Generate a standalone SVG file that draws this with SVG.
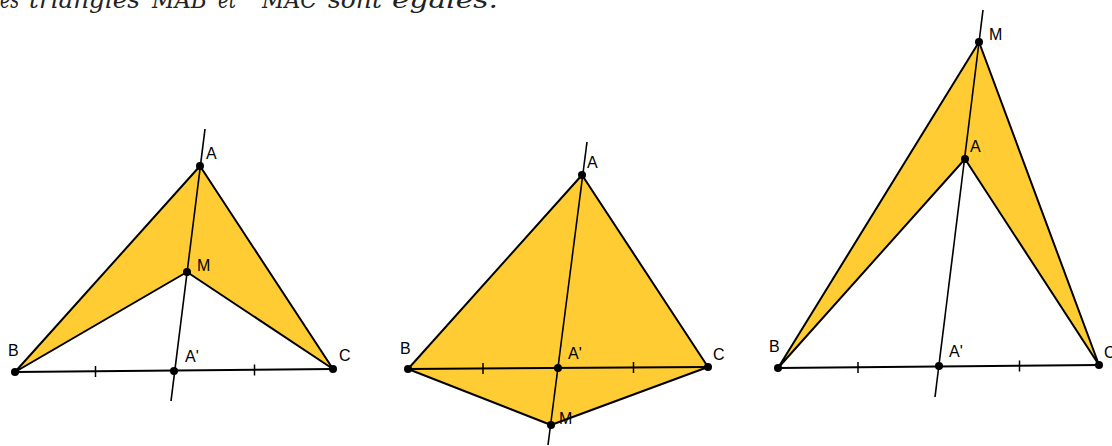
<svg xmlns="http://www.w3.org/2000/svg" width="1112" height="446" viewBox="0 0 1112 446">
<style>
.t{font-family:"DejaVu Serif","Liberation Serif",serif;font-style:italic;font-size:24px;fill:#222}
.f{fill:#FFCC33;stroke:none}
.e{stroke:#000;stroke-width:2;fill:none;stroke-linejoin:round}
.l{stroke:#000;stroke-width:1.6;fill:none}
.k{stroke:#000;stroke-width:1.5}
.d{fill:#000}
.lb{font-family:"Liberation Sans",Arial,sans-serif;font-size:16px;fill:#000}
</style>
<rect width="1112" height="446" fill="#fff"/>
<g id="caption">
<text class="t" x="0" y="8" textLength="19" lengthAdjust="spacingAndGlyphs">es</text>
<text class="t" x="29" y="8" textLength="111" lengthAdjust="spacingAndGlyphs">triangles</text>
<text class="t" x="152" y="8" textLength="55" lengthAdjust="spacingAndGlyphs">MAB</text>
<text class="t" x="218" y="8" textLength="18" lengthAdjust="spacingAndGlyphs">et</text>
<text class="t" x="262" y="8" textLength="55" lengthAdjust="spacingAndGlyphs">MAC</text>
<text class="t" x="328" y="8" textLength="54" lengthAdjust="spacingAndGlyphs">sont</text>
<text class="t" x="392" y="8" textLength="106" lengthAdjust="spacingAndGlyphs">égales.</text>
</g>
<g id="figure1">
<polygon class="f" points="200,166 15,372 187,272 333,369"/>
<g id="connectors1">
<polyline class="e" points="333,369 200,166 15,372 187,272 333,369"/>
<line class="e" x1="15" y1="372" x2="333" y2="369"/>
<line class="l" x1="205" y1="129" x2="171" y2="401"/>
<line class="k" x1="95.5" y1="366" x2="95.5" y2="377"/>
<line class="k" x1="254.5" y1="364.5" x2="254.5" y2="375.5"/>
</g>
<g id="f1-A"><circle class="d" cx="200" cy="166" r="4"/><text class="lb" x="206" y="159">A</text></g>
<g id="f1-M"><circle class="d" cx="187" cy="272" r="4"/><text class="lb" x="197" y="271">M</text></g>
<g id="f1-B"><circle class="d" cx="15" cy="372" r="4"/><text class="lb" x="8" y="356">B</text></g>
<g id="f1-A2"><circle class="d" cx="174" cy="371" r="4"/><text class="lb" x="185" y="362">A'</text></g>
<g id="f1-C"><circle class="d" cx="333" cy="369" r="4"/><text class="lb" x="339" y="361">C</text></g>
</g>
<g id="figure2">
<polygon class="f" points="582,175 408,369 551,425 708,367"/>
<g id="connectors2">
<polygon class="e" points="582,175 408,369 551,425 708,367"/>
<line class="e" x1="408" y1="369" x2="708" y2="367"/>
<line class="l" x1="587" y1="142" x2="548" y2="445"/>
<line class="k" x1="483" y1="363" x2="483" y2="374"/>
<line class="k" x1="633.5" y1="362" x2="633.5" y2="373"/>
</g>
<g id="f2-A"><circle class="d" cx="582" cy="175" r="4"/><text class="lb" x="587" y="168">A</text></g>
<g id="f2-B"><circle class="d" cx="408" cy="369" r="4"/><text class="lb" x="400" y="354">B</text></g>
<g id="f2-A2"><circle class="d" cx="558" cy="368" r="4"/><text class="lb" x="568" y="359">A'</text></g>
<g id="f2-C"><circle class="d" cx="708" cy="367" r="4"/><text class="lb" x="713" y="360">C</text></g>
<g id="f2-M"><circle class="d" cx="551" cy="425" r="4"/><text class="lb" x="559" y="424">M</text></g>
</g>
<g id="figure3">
<polygon class="f" points="979,42 778,368 965,159 1099,365"/>
<g id="connectors3">
<polygon class="e" points="979,42 778,368 965,159 1099,365"/>
<line class="e" x1="778" y1="368" x2="1099" y2="365"/>
<line class="l" x1="983" y1="10" x2="935" y2="397"/>
<line class="k" x1="858" y1="362" x2="858" y2="373"/>
<line class="k" x1="1019.5" y1="360.5" x2="1019.5" y2="371.5"/>
</g>
<g id="f3-M"><circle class="d" cx="979" cy="42" r="4"/><text class="lb" x="989" y="40">M</text></g>
<g id="f3-A"><circle class="d" cx="965" cy="159" r="4"/><text class="lb" x="970" y="152">A</text></g>
<g id="f3-B"><circle class="d" cx="778" cy="368" r="4"/><text class="lb" x="769" y="352">B</text></g>
<g id="f3-A2"><circle class="d" cx="939" cy="366" r="4"/><text class="lb" x="949" y="357">A'</text></g>
<g id="f3-C"><circle class="d" cx="1099" cy="365" r="4"/><text class="lb" x="1104" y="358">C</text></g>
</g>
</svg>
